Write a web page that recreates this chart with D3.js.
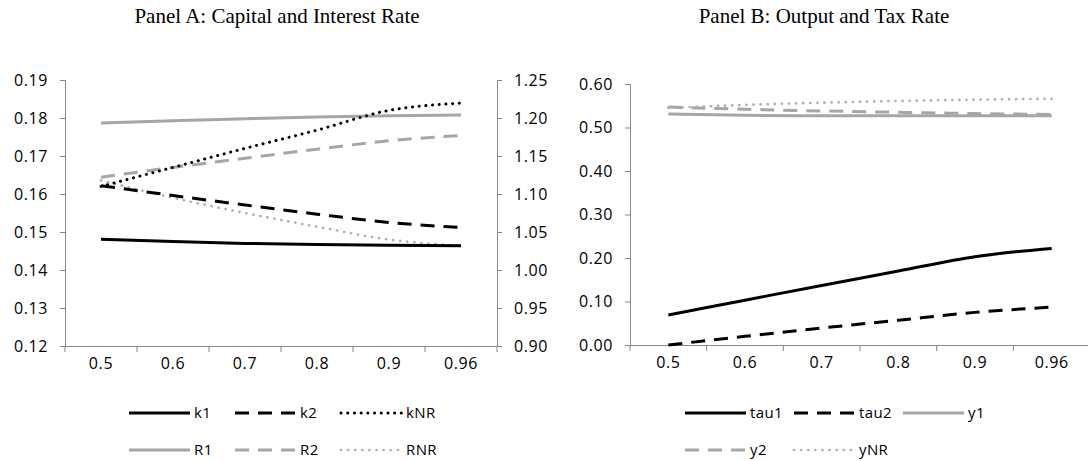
<!DOCTYPE html>
<html>
<head>
<meta charset="utf-8">
<script src="https://cdn.jsdelivr.net/npm/d3@7"></script>
<style>
  body { margin: 0; background: #fff; }
  svg { display: block; }
  .tick text { font-family: "Open Sans", sans-serif; font-size: 16px; fill: #000; letter-spacing: 0.6px; }
  .legend text { font-family: "Open Sans", sans-serif; font-size: 15px; fill: #000; letter-spacing: 0.4px; }
  .title { font-family: "Liberation Serif", "Times New Roman", serif; font-size: 21px; fill: #000; }
</style>
</head>
<body>
<svg id="chart" width="1088" height="461"></svg>
<script>
const categories = ['0.5', '0.6', '0.7', '0.8', '0.9', '0.96']

// panel A, left axis (capital)
const k1 = [0.1481, 0.1475, 0.1470, 0.1467, 0.1465, 0.1464]
const k2 = [0.1622, 0.1596, 0.1571, 0.1547, 0.1525, 0.1512]
const kNR = [0.1620, 0.1670, 0.1720, 0.1768, 0.1820, 0.1839]
// panel A, right axis (interest rate)
const R1 = [1.1935, 1.1965, 1.1990, 1.2012, 1.2030, 1.2040]
const R2 = [1.1220, 1.1350, 1.1470, 1.1590, 1.1700, 1.1770]
const RNR = [1.1180, 1.0950, 1.0750, 1.0570, 1.0400, 1.0320]
// panel B
const tau1 = [0.069, 0.103, 0.137, 0.170, 0.203, 0.222]
const tau2 = [0.000, 0.020, 0.039, 0.057, 0.075, 0.087]
const y1 = [0.531, 0.528, 0.527, 0.527, 0.527, 0.527]
const y2 = [0.547, 0.542, 0.538, 0.535, 0.532, 0.530]
const yNR = [0.545, 0.552, 0.557, 0.561, 0.564, 0.566]

const ticksAL = [0.12, 0.13, 0.14, 0.15, 0.16, 0.17, 0.18, 0.19]
const ticksAR = [0.90, 0.95, 1.00, 1.05, 1.10, 1.15, 1.20, 1.25]
const ticksB = [0, 0.1, 0.2, 0.3, 0.4, 0.5, 0.6]

const black = '#000'
const gray = '#a6a6a6'
const lightGray = '#b0b0b0'
const styles = {
    solid: { dash: null, cap: 'butt', w: 3 },
    dash: { dash: '14,9', cap: 'butt', w: 3 },
    dot: { dash: '0.1,6.6', cap: 'round', w: 3 },
    dotLight: { dash: '0.1,7', cap: 'round', w: 2.7 }
}

const svg = d3.select('#chart')
const axisColor = '#868686'
const fmt = d3.format('.2f')

function styleAxis(g) {
    g.select('.domain').attr('stroke', axisColor)
    g.selectAll('.tick line').attr('stroke', axisColor)
}

function drawSeries(g, x, y, values, color, st) {
    const line = d3.line()
        .x((d, i) => x(categories[i]) + x.bandwidth() / 2)
        .y(d => y(d))
        .curve(d3.curveMonotoneX)
    g.append('path')
        .datum(values)
        .attr('d', line)
        .attr('fill', 'none')
        .attr('stroke', color)
        .attr('stroke-width', st.w)
        .attr('stroke-linecap', st.cap)
        .attr('stroke-dasharray', st.dash)
}

function drawXAxis(g, x, y0) {
    const ax = g.append('g')
        .attr('transform', `translate(0,${y0})`)
        .call(d3.axisBottom(x).tickSize(0).tickPadding(12))
    styleAxis(ax)
    const bounds = categories.map(c => x(c)).concat([x.range()[1]])
    ax.selectAll('line.sep')
        .data(bounds)
        .enter()
        .append('line')
        .attr('class', 'sep')
        .attr('x1', d => d)
        .attr('x2', d => d)
        .attr('y1', 0)
        .attr('y2', 6)
        .attr('stroke', axisColor)
}

function drawLegend(g, items, x0, y0, dx, dy, perRow) {
    items.forEach((it, i) => {
        const row = Math.floor(i / perRow)
        const col = i % perRow
        const lg = g.append('g')
            .attr('class', 'legend')
            .attr('transform', `translate(${x0 + col * dx},${y0 + row * dy})`)
        lg.append('line')
            .attr('x1', 0).attr('x2', 61)
            .attr('y1', 0).attr('y2', 0)
            .attr('stroke', it.color)
            .attr('stroke-width', it.st.w)
            .attr('stroke-linecap', it.st.cap)
            .attr('stroke-dasharray', it.st.dash)
        lg.append('text')
            .attr('x', 65)
            .attr('dy', '0.35em')
            .text(it.name)
    })
}

// ---------- Panel A ----------
const xA = d3.scaleBand().domain(categories).range([65, 497])
const yA = d3.scaleLinear().domain([0.12, 0.19]).range([346, 80])
const yAR = d3.scaleLinear().domain([0.90, 1.25]).range([346, 80])

const gA = svg.append('g')
gA.append('text').attr('class', 'title')
    .attr('x', 277).attr('y', 23).attr('text-anchor', 'middle')
    .text('Panel A: Capital and Interest Rate')

const axL = gA.append('g').attr('transform', 'translate(65,0)')
    .call(d3.axisLeft(yA).tickValues(ticksAL).tickFormat(fmt).tickSize(5).tickPadding(12))
styleAxis(axL)
const axR = gA.append('g').attr('transform', 'translate(497,0)')
    .call(d3.axisRight(yAR).tickValues(ticksAR).tickFormat(fmt).tickSize(5).tickPadding(12))
styleAxis(axR)
drawXAxis(gA, xA, 346)

drawSeries(gA, xA, yAR, R1, gray, styles.solid)
drawSeries(gA, xA, yAR, R2, gray, styles.dash)
drawSeries(gA, xA, yAR, RNR, lightGray, styles.dotLight)
drawSeries(gA, xA, yA, k1, black, styles.solid)
drawSeries(gA, xA, yA, k2, black, styles.dash)
drawSeries(gA, xA, yA, kNR, black, styles.dot)

drawLegend(gA, [
    { name: 'k1', color: black, st: styles.solid },
    { name: 'k2', color: black, st: styles.dash },
    { name: 'kNR', color: black, st: styles.dot },
    { name: 'R1', color: gray, st: styles.solid },
    { name: 'R2', color: gray, st: styles.dash },
    { name: 'RNR', color: lightGray, st: styles.dotLight }
], 129, 413, 106, 37, 3)

// ---------- Panel B ----------
const xB = d3.scaleBand().domain(categories).range([630, 1090])
const yB = d3.scaleLinear().domain([0, 0.6]).range([345, 84])

const gB = svg.append('g')
gB.append('text').attr('class', 'title')
    .attr('x', 824).attr('y', 23).attr('text-anchor', 'middle')
    .text('Panel B: Output and Tax Rate')

const axB = gB.append('g').attr('transform', 'translate(630,0)')
    .call(d3.axisLeft(yB).tickValues(ticksB).tickFormat(fmt).tickSize(5).tickPadding(12))
styleAxis(axB)
drawXAxis(gB, xB, 345)

drawSeries(gB, xB, yB, y1, gray, styles.solid)
drawSeries(gB, xB, yB, y2, gray, styles.dash)
drawSeries(gB, xB, yB, yNR, lightGray, styles.dotLight)
drawSeries(gB, xB, yB, tau1, black, styles.solid)
drawSeries(gB, xB, yB, tau2, black, styles.dash)

drawLegend(gB, [
    { name: 'tau1', color: black, st: styles.solid },
    { name: 'tau2', color: black, st: styles.dash },
    { name: 'y1', color: gray, st: styles.solid },
    { name: 'y2', color: gray, st: styles.dash },
    { name: 'yNR', color: lightGray, st: styles.dotLight }
], 685, 413, 109, 37, 3)
</script>
</body>
</html>
